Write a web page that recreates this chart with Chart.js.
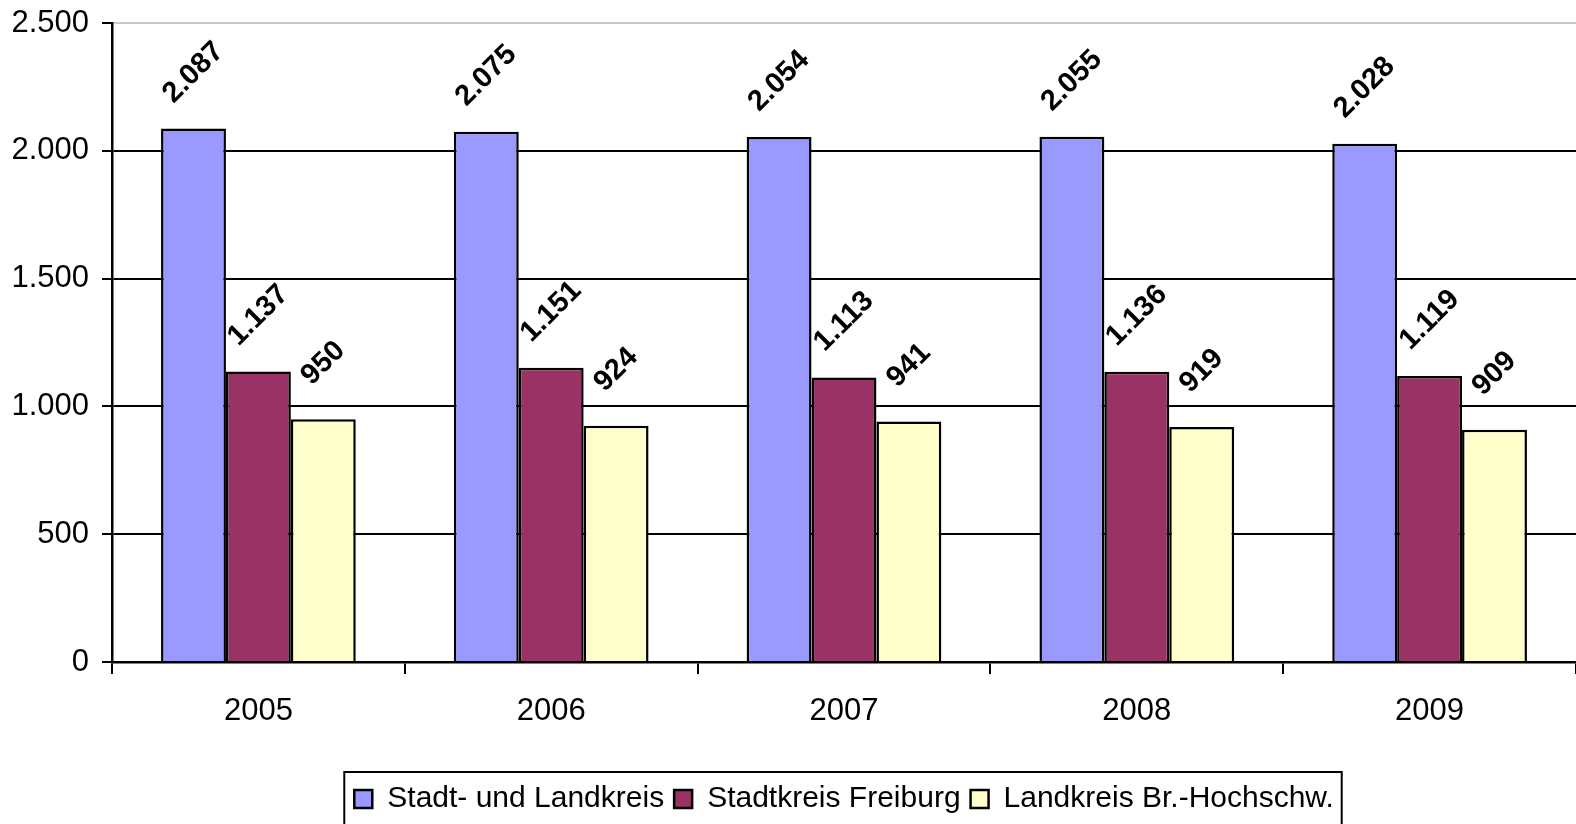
<!DOCTYPE html>
<html>
<head>
<meta charset="utf-8">
<script src="https://cdn.jsdelivr.net/npm/chart.js@4/dist/chart.umd.min.js"></script>
<style>
  html, body { margin: 0; padding: 0; background: #fff; }
  #wrap { width: 1576px; height: 824px; position: relative; }
</style>
</head>
<body>
<div id="wrap"><canvas id="chart"></canvas></div>
<script>
const years = ['2005', '2006', '2007', '2008', '2009'];
const seriesNames = ['Stadt- und Landkreis', 'Stadtkreis Freiburg', 'Landkreis Br.-Hochschw.'];
const stadtUndLand = [2087, 2075, 2054, 2055, 2028];
const freiburg = [1137, 1151, 1113, 1136, 1119];
const landkreis = [950, 924, 941, 919, 909];
const yTicks = [0, 500, 1000, 1500, 2000, 2500];

const colors = ['#9999FF', '#993366', '#FFFFCC'];

function fmt(v) {
    return String(v).replace(/\B(?=(\d{3})+(?!\d))/g, '.');
}

Chart.defaults.font.family = '"Liberation Sans", Arial, sans-serif';
Chart.defaults.color = '#000';

const barLabels = {
    id: 'barLabels',
    afterDatasetsDraw(chart) {
        const ctx = chart.ctx;
        ctx.save();
        ctx.font = 'bold 29px "Liberation Sans", Arial, sans-serif';
        ctx.fillStyle = '#000';
        ctx.textAlign = 'center';
        ctx.textBaseline = 'middle';
        chart.data.datasets.forEach((ds, i) => {
            chart.getDatasetMeta(i).data.forEach((bar, j) => {
                ctx.save();
                ctx.translate(bar.x, bar.y - 56);
                ctx.rotate(-Math.PI / 4);
                ctx.fillText(fmt(ds.data[j]), 0, 0);
                ctx.restore();
            });
        });
        ctx.restore();
    }
};

// legend centred under the plot area (not the whole canvas), with a frame
const legendFrame = {
    id: 'legendFrame',
    afterLayout(chart) {
        const lg = chart.legend;
        const dx = (chart.chartArea.left + chart.chartArea.right) / 2 - (lg.left + lg.right) / 2;
        lg.left += dx;
        lg.right += dx;
        (lg.legendHitBoxes || []).forEach(b => { b.left += dx; });
    },
    afterDraw(chart) {
        const boxes = chart.legend.legendHitBoxes;
        if (!boxes || !boxes.length) return;
        const left = Math.min(...boxes.map(b => b.left)) - 10;
        const right = Math.max(...boxes.map(b => b.left + b.width)) + 8;
        const ctx = chart.ctx;
        ctx.save();
        ctx.strokeStyle = '#000';
        ctx.lineWidth = 2;
        ctx.strokeRect(left, chart.legend.top - 2, right - left, 824);
        ctx.restore();
    }
};

const ctx = document.getElementById('chart').getContext('2d');
new Chart(ctx, {
    type: 'bar',
    data: {
        labels: years,
        datasets: [stadtUndLand, freiburg, landkreis].map((d, i) => ({
            label: seriesNames[i],
            data: d,
            backgroundColor: colors[i],
            borderColor: '#000',
            borderWidth: 2.5
        }))
    },
    options: {
        responsive: true,
        maintainAspectRatio: false,
        animation: false,
        layout: { padding: { top: 23, right: 0, left: 0, bottom: 0 } },
        datasets: {
            bar: { categoryPercentage: 0.665, barPercentage: 1 }
        },
        scales: {
            x: {
                afterFit: s => { s.height = 112; },
                grid: {
                    offset: true,
                    drawOnChartArea: false,
                    color: '#000',
                    lineWidth: 2,
                    tickLength: 12
                },
                border: { display: true, color: '#000', width: 2.5 },
                ticks: { font: { size: 31 }, padding: 19, color: '#000' }
            },
            y: {
                min: 0,
                max: 2500,
                afterFit: s => { s.width = 112; s.paddingTop = 0; s.paddingBottom = 0; },
                afterBuildTicks: s => { s.ticks = yTicks.map(v => ({ value: v })); },
                grid: {
                    color: c => (c.tick && c.tick.value === 2500) ? '#c8c8c8' : '#000',
                    tickColor: '#000',
                    lineWidth: 2,
                    tickLength: 10
                },
                border: { display: true, color: '#000', width: 2.5 },
                ticks: {
                    font: { size: 31 },
                    padding: 13,
                    color: '#000',
                    callback: v => fmt(v)
                }
            }
        },
        plugins: {
            legend: {
                position: 'bottom',
                labels: {
                    font: { size: 30 },
                    boxWidth: 18,
                    boxHeight: 18,
                    padding: 10,
                    color: '#000'
                }
            },
            tooltip: { enabled: false }
        }
    },
    plugins: [barLabels, legendFrame]
});
</script>
</body>
</html>
